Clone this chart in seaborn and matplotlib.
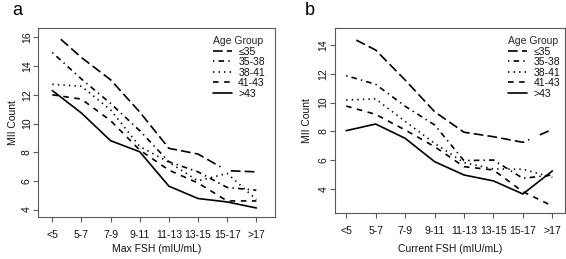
import numpy as np
import pandas as pd
import matplotlib
matplotlib.use("Agg")
import matplotlib.pyplot as plt
from matplotlib.lines import Line2D
import seaborn as sns

cats = ["<5", "5-7", "7-9", "9-11", "11-13", "13-15", "15-17", ">17"]
groups = ["≤35", "35-38", "38-41", "41-43", ">43"]

max_le35 = [16.4, 14.6, 13.05, 10.8, 8.27, 7.87, 6.71, 6.63]
max_35_38 = [14.95, 13.1, 11.4, 9.5, 7.33, 6.63, 5.54, 5.35]
max_38_41 = [12.73, 12.6, 10.95, 8.4, 7.3, 6.0, 6.52, 4.7]
max_41_43 = [12.0, 11.7, 10.2, 8.15, 6.75, 5.85, 4.6, 4.6]
max_gt43 = [12.3, 10.73, 8.8, 8.03, 5.63, 4.77, 4.53, 4.11]

cur_le35 = [14.7, 13.65, 11.57, 9.37, 7.94, 7.63, 7.24, 8.14]
cur_35_38 = [11.87, 11.27, 9.75, 8.45, 5.97, 6.01, 4.74, 4.97]
cur_38_41 = [10.18, 10.25, 8.7, 7.17, 5.83, 5.39, 5.37, 4.81]
cur_41_43 = [9.76, 9.18, 8.1, 6.94, 5.55, 5.32, 3.81, 2.82]
cur_gt43 = [8.05, 8.51, 7.52, 5.9, 4.97, 4.56, 3.65, 5.25]

sns.set_style("ticks")
plt.rcParams["font.family"] = ["Liberation Sans", "DejaVu Sans"]
plt.rcParams["lines.scale_dashes"] = False

FS = 7.5
FRAME = "#5a5a5a"
LW = 1.2

# R-like line types (units in points)
leg_styles = [
    (0, (7, 3)),            # longdash
    (0, (1, 3, 4, 3)),      # dotdash
    (0, (1, 3)),            # dotted
    (0, (4, 4)),            # dashed
    "-",                    # solid
]
# the first series starts with a gap, as in the reference
plot_styles = [(1.0, (1.0, 8.2) + (7, 3) * 60)] + leg_styles[1:]


def make_df(series):
    rows = []
    for g, vals in zip(groups, series):
        for i, (c, v) in enumerate(zip(cats, vals)):
            rows.append({"pos": i, "cat": c, "group": g, "value": v})
    return pd.DataFrame(rows)


fig = plt.figure(figsize=(5.66, 2.59), dpi=100)
W, H = 566, 259


def px_axes(l, t, r, b):
    return fig.add_axes([l / W, (H - b) / H, (r - l) / W, (b - t) / H])


panels = [
    dict(series=[max_le35, max_35_38, max_38_41, max_41_43, max_gt43],
         box=(38.3, 27.7, 275, 217.3), xlim=(-0.48, 7.64), ylim=(3.46, 16.68),
         yticks=[4, 6, 8, 10, 12, 14, 16], xlabel="Max FSH (mIU/mL)",
         ylabel_x=18.0, letter="a", letter_xy=(12, 2), legend_anchor=(212.7, 36)),
    dict(series=[cur_le35, cur_35_38, cur_38_41, cur_41_43, cur_gt43],
         box=(334.7, 27.7, 565.0, 213.3), xlim=(-0.39, 7.43), ylim=(2.31, 15.2),
         yticks=[4, 6, 8, 10, 12, 14], xlabel="Current FSH (mIU/mL)",
         ylabel_x=312.0, letter="b", letter_xy=(305, 2), legend_anchor=(508, 36)),
]

for p in panels:
    l, t, r, b = p["box"]
    axw, axh = r - l, b - t
    ax = px_axes(l, t, r, b)
    df = make_df(p["series"])
    for g, ls in zip(groups, plot_styles):
        sub = df[df["group"] == g]
        sns.lineplot(data=sub, x="pos", y="value", ax=ax, color="black",
                     linewidth=LW, linestyle=ls, sort=False, legend=False)
    ax.set_xlim(*p["xlim"])
    ax.set_ylim(*p["ylim"])
    ax.set_xticks(range(len(cats)))
    ax.set_xticklabels(cats)
    ax.set_yticks(p["yticks"])
    ax.set_yticklabels([str(v) for v in p["yticks"]], rotation=90, va="center")
    ax.tick_params(axis="both", labelsize=FS, colors=FRAME, labelcolor="#111111",
                   length=3.6, width=0.8, direction="out")
    ax.tick_params(axis="y", pad=1)
    ax.tick_params(axis="x", pad=5.5)
    for s in ax.spines.values():
        s.set_visible(True)
        s.set_color(FRAME)
        s.set_linewidth(0.8)
    ax.set_xlabel(p["xlabel"], fontsize=FS, color="#111111")
    ax.set_ylabel("MII Count", fontsize=FS, color="#111111")
    ax.xaxis.set_label_coords(0.5, (b - 243.5) / axh)
    ax.yaxis.set_label_coords((p["ylabel_x"] - l) / axw, 0.5)

    handles = [Line2D([0], [0], color="black", linewidth=LW, linestyle=ls)
               for ls in leg_styles]
    lx, ly = p["legend_anchor"]
    leg = ax.legend(handles, groups, title="Age Group", loc="upper left",
                    bbox_to_anchor=((lx - l) / axw, (b - ly) / axh),
                    frameon=False, fontsize=FS, title_fontsize=FS,
                    handlelength=1.85, handletextpad=0.6, labelspacing=0.05,
                    borderpad=0, borderaxespad=0, alignment="left")
    for txt in leg.get_texts():
        txt.set_color("#111111")
    fig.text(p["letter_xy"][0] / W, 1 - p["letter_xy"][1] / H, p["letter"],
             fontsize=13, ha="left", va="top", color="black")

fig.savefig("out.png", dpi=100)
